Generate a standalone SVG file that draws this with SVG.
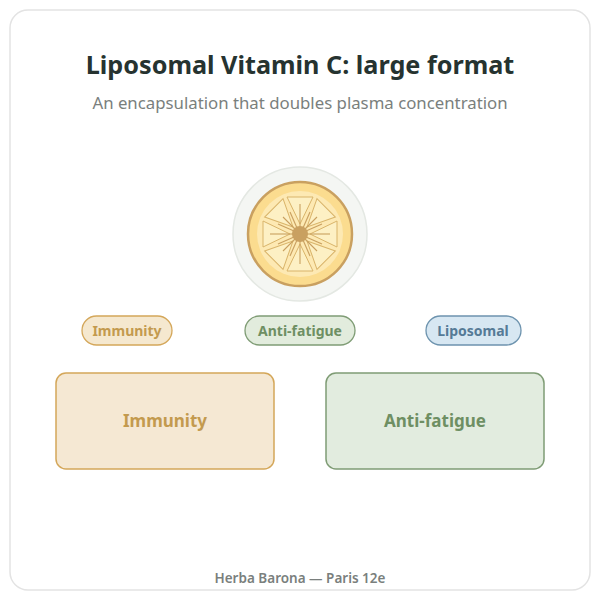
<svg xmlns="http://www.w3.org/2000/svg" width="600" height="600" viewBox="0 0 600 600">
<style>
text{font-family:"Noto Sans","Open Sans",sans-serif;text-anchor:middle}
.seg{fill:#fdf0c4;stroke:#d9b46a;stroke-width:1}
.ray{stroke:#c9a060;stroke-width:1.1}
</style>
<rect x="10" y="10" width="580" height="580" rx="18" fill="#fff" stroke="#e3e3e3" stroke-width="1.5"/>
<text x="300" y="74" font-size="25.2" font-weight="bold" fill="#263330">Liposomal Vitamin C: large format</text>
<text x="300" y="109" font-size="16.8" fill="#7a7f7d">An encapsulation that doubles plasma concentration</text>
<g id="fruit">
<circle cx="300" cy="234" r="67" fill="#f4f6f3" stroke="#e4e8e3" stroke-width="1.5"/>
<circle cx="300" cy="234" r="52" fill="#fbdc8f" stroke="#c9a060" stroke-width="2.5"/>
<circle cx="300" cy="234" r="43" fill="#fde9b3"/>
<g transform="translate(300 234)">
<polygon class="seg" points="0,-10 -13,-37 13,-37"/>
<polygon class="seg" points="0,-10 -13,-37 13,-37" transform="rotate(45)"/>
<polygon class="seg" points="0,-10 -13,-37 13,-37" transform="rotate(90)"/>
<polygon class="seg" points="0,-10 -13,-37 13,-37" transform="rotate(135)"/>
<polygon class="seg" points="0,-10 -13,-37 13,-37" transform="rotate(180)"/>
<polygon class="seg" points="0,-10 -13,-37 13,-37" transform="rotate(225)"/>
<polygon class="seg" points="0,-10 -13,-37 13,-37" transform="rotate(270)"/>
<polygon class="seg" points="0,-10 -13,-37 13,-37" transform="rotate(315)"/>
<g class="ray">
<line x1="0" y1="-7" x2="0" y2="-30"/><line x1="0" y1="7" x2="0" y2="30"/>
<line x1="-7" y1="0" x2="-30" y2="0"/><line x1="7" y1="0" x2="30" y2="0"/>
<line x1="5" y1="5" x2="17" y2="17"/><line x1="-5" y1="5" x2="-17" y2="17"/>
<line x1="5" y1="-5" x2="17" y2="-17"/><line x1="-5" y1="-5" x2="-17" y2="-17"/>
<line x1="3" y1="-6" x2="10" y2="-22"/><line x1="-3" y1="6" x2="-10" y2="22"/>
<line x1="-3" y1="-6" x2="-10" y2="-22"/><line x1="3" y1="6" x2="10" y2="22"/>
<line x1="6" y1="-3" x2="22" y2="-10"/><line x1="-6" y1="3" x2="-22" y2="10"/>
<line x1="-6" y1="-3" x2="-22" y2="-10"/><line x1="6" y1="3" x2="22" y2="10"/>
</g>
<circle r="8" fill="#c9a060"/>
</g>
</g>
<g id="tag-immunity"><rect x="82" y="316" width="90" height="29" rx="14.5" fill="#f5e8cf" stroke="#d4a75a" stroke-width="1.3"/><text x="127" y="336" font-size="14" font-weight="bold" fill="#c39a4e">Immunity</text></g>
<g id="tag-antifatigue"><rect x="245" y="316" width="110" height="29" rx="14.5" fill="#e2ecdd" stroke="#7f9c75" stroke-width="1.3"/><text x="300" y="336" font-size="14" font-weight="bold" fill="#6e8f63">Anti-fatigue</text></g>
<g id="tag-liposomal"><rect x="426" y="316" width="95" height="29" rx="14.5" fill="#d7e7f2" stroke="#6d93ae" stroke-width="1.3"/><text x="473" y="336" font-size="14" font-weight="bold" fill="#557a96">Liposomal</text></g>
<g id="box-immunity"><rect x="56" y="373" width="218" height="96" rx="10" fill="#f5e8d3" stroke="#d4a75a" stroke-width="1.5"/><text x="165" y="427" font-size="17" font-weight="bold" fill="#c39a4e">Immunity</text></g>
<g id="box-antifatigue"><rect x="326" y="373" width="218" height="96" rx="10" fill="#e2ecdf" stroke="#7f9c75" stroke-width="1.5"/><text x="435" y="427" font-size="17" font-weight="bold" fill="#6e8f63">Anti-fatigue</text></g>
<text x="300" y="583" font-size="13.5" font-weight="600" fill="#7a7f7d">Herba Barona — Paris 12e</text>
</svg>
